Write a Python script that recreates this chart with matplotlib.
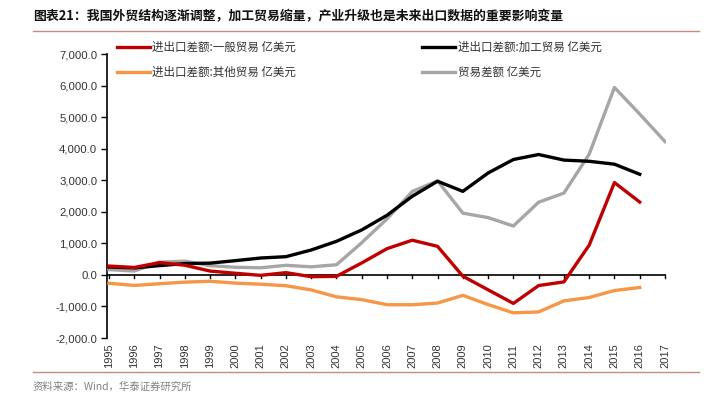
import matplotlib
matplotlib.use("Agg")
import matplotlib.pyplot as plt
from matplotlib.ticker import FuncFormatter, MultipleLocator
from matplotlib.lines import Line2D

plt.rcParams['font.family'] = ['Noto Sans CJK SC', 'DejaVu Sans']

years = list(range(1995, 2018))
general = [280, 235, 390, 306, 121, 51, -15, 71, -57, -46, 379, 831, 1099, 905,
           -41, -473, -904, -338, -222, 942, 2926, 2308]
processing = [250, 221, 294, 359, 373, 451, 535, 577, 789, 1063, 1425, 1889, 2492,
              2968, 2647, 3229, 3656, 3815, 3638, 3600, 3508, 3189]
other = [-266, -334, -280, -230, -202, -261, -295, -344, -477, -696, -784, -945,
         -948, -892, -649, -941, -1203, -1174, -824, -717, -495, -400]
total = [167, 122, 404, 435, 292, 241, 225, 304, 255, 321, 1020, 1775, 2643, 2981,
         1957, 1815, 1549, 2303, 2592, 3825, 5939, 5097, 4225]

labels = ['进出口差额:一般贸易 亿美元', '进出口差额:加工贸易 亿美元',
          '进出口差额:其他贸易 亿美元', '贸易差额 亿美元']
title = '图表21：我国外贸结构逐渐调整，加工贸易缩量，产业升级也是未来出口数据的重要影响变量'
source = '资料来源：Wind，华泰证券研究所'

W, H = 707, 407
fig = plt.figure(figsize=(W / 100, H / 100), dpi=100)

def fx(px):
    return px / W

def fy(py):
    return 1 - py / H

ax = fig.add_axes([fx(107), fy(338), fx(666 - 107), (338 - 54) / H])

c_red = '#C00000'
c_black = '#000000'
c_orange = '#F79646'
c_gray = '#A6A6A6'
lw = 2.4

yrs16 = years[:len(general)]
ax.plot(yrs16, other, color=c_orange, lw=lw, zorder=3)
ax.plot(years, total, color=c_gray, lw=lw, zorder=4)
ax.plot(yrs16, processing, color=c_black, lw=lw, zorder=5)
ax.plot(yrs16, general, color=c_red, lw=lw, zorder=6)

ax.set_xlim(1994.92, 2017.04)
ax.set_ylim(-2000, 7000)
ax.yaxis.set_major_locator(MultipleLocator(1000))
ax.yaxis.set_major_formatter(FuncFormatter(lambda v, p: f'{v:,.1f}'))

for s in ['top', 'right', 'bottom']:
    ax.spines[s].set_visible(False)
ax.spines['left'].set_linewidth(1.2)
ax.spines['left'].set_color('#000000')

# zero line with tick marks
ax.axhline(0, color='#000000', lw=1.2, zorder=2)
for y in years:
    ax.plot([y, y], [0, -90], color='#000000', lw=1.0, zorder=2, clip_on=False)

ax.set_xticks(years)
ax.set_xticklabels([str(y) for y in years], rotation=90, family='Liberation Sans',
                   fontsize=8, color='#333333')
ax.tick_params(axis='x', length=0, pad=4)
ax.tick_params(axis='y', direction='out', length=4, width=1.0, pad=3)
for t in ax.get_yticklabels():
    t.set_family('Liberation Sans')
    t.set_fontsize(8.2)
    t.set_color('#333333')

# legend (matplotlib fills columns first)
colors = [c_red, c_black, c_orange, c_gray]
order = [0, 2, 1, 3]
handles = [Line2D([], [], color=colors[i], lw=lw) for i in order]
leg = fig.legend(handles, [labels[i] for i in order], ncol=2, loc='upper left',
                 bbox_to_anchor=(fx(112), fy(36)), frameon=False,
                 fontsize=8.3, handlelength=2.9, handletextpad=0.2,
                 columnspacing=10.9, labelspacing=1.05, borderaxespad=0)
for t in leg.get_texts():
    t.set_color('#333333')

# title
fig.text(fx(33), fy(16), title, fontsize=9.3, fontweight='bold', va='center',
         ha='left', color='#111111')
fig.add_artist(Line2D([fx(33), fx(699)], [fy(31), fy(31)], color='#C88A80', lw=1.0))

# footer
fig.add_artist(Line2D([fx(33), fx(699)], [fy(372), fy(372)], color='#C88A80', lw=1.0))
fig.text(fx(33), fy(387), source, fontsize=7.5, va='center', ha='left', color='#808080')

fig.savefig('out.png', dpi=100)
